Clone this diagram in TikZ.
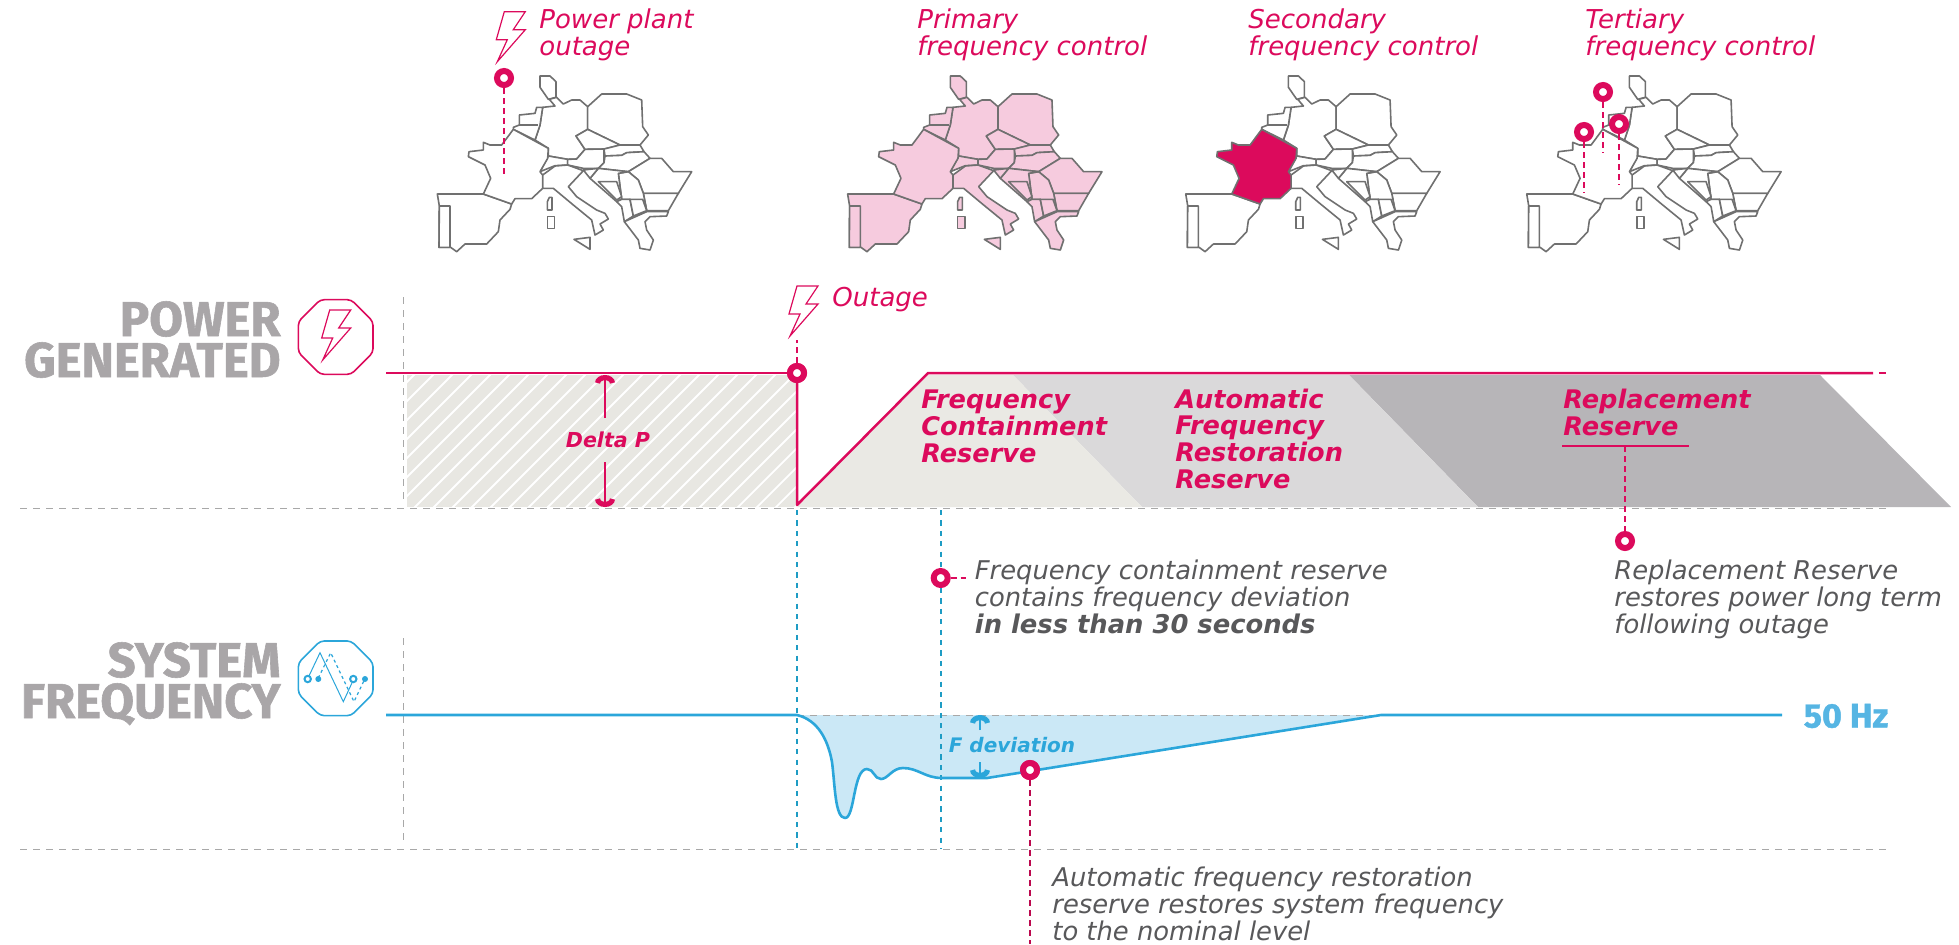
\documentclass[tikz,border=0pt]{standalone}
\usepackage{fontspec}
\setmainfont{DejaVu Sans}
\newfontfamily\headfont[BoldFeatures={FakeBold=1.2}]{Fira Sans}
\usetikzlibrary{arrows.meta,shapes.geometric}
\definecolor{crim}{HTML}{DC0A5C}
\definecolor{skyb}{HTML}{2BA6DA}
\definecolor{hzblue}{HTML}{56B5E3}
\definecolor{tealb}{HTML}{1E9CC4}
\definecolor{txtgrey}{HTML}{58585A}
\definecolor{headgrey}{HTML}{A9A6A8}
\definecolor{dashgrey}{HTML}{A8A8A8}
\definecolor{mapline}{HTML}{707070}
\definecolor{pinkfill}{HTML}{F6CBDE}
\definecolor{resA}{HTML}{EAE9E4}
\definecolor{resB}{HTML}{DAD9DA}
\definecolor{resC}{HTML}{B7B5B8}
\definecolor{hatchbg}{HTML}{E8E7E2}
\definecolor{devfill}{HTML}{CBE8F6}
\tikzset{
  country/.style={draw=mapline,line width=0.8pt,line join=round,fill=white},
  ringmark/.style={circle,draw=crim,fill=white,line width=3pt,inner sep=0pt,minimum size=7pt},
  pinkdash/.style={draw=crim,line width=0.7pt,dash pattern=on 3pt off 2pt},
  bluedash/.style={draw=tealb,line width=1pt,dash pattern=on 2.6pt off 2.6pt},
  greydash/.style={draw=dashgrey,line width=0.5pt,dash pattern=on 3.5pt off 3pt},
  crimline/.style={draw=crim,line width=1.25pt,line join=round},
  bluecurve/.style={draw=skyb,line width=1.3pt,line join=round},
  lightning/.style={draw=crim,line width=0.6pt,line join=miter},
  caption/.style={anchor=base west,align=left,text=crim,font=\fontsize{13}{13.3}\selectfont\itshape,inner sep=0pt},
  note/.style={anchor=base west,align=left,text=txtgrey,font=\fontsize{12.9}{13.3}\selectfont\itshape,inner sep=0pt},
  reservelabel/.style={anchor=base west,align=left,text=crim,font=\fontsize{12.8}{13.3}\selectfont\bfseries\itshape,inner sep=0pt},
  headtext/.style={anchor=base east,align=right,text=headgrey,font=\fontsize{24.5}{20.5}\selectfont\headfont\bfseries,inner sep=0pt},
  octa/.style={regular polygon,regular polygon sides=8,minimum size=40.4pt,inner sep=0pt,line width=0.8pt,rounded corners=2pt},
  updownhead/.style={-{Arc Barb[length=4pt,width=10pt,line width=2.6pt]}},
}
% one European map; #1 fill for most countries, #2 fill for France
\newcommand{\euromap}[4]{%
\begin{scope}[shift={(#3,#4)},x=0.16667pt,y=-0.16667pt,country/.append style={fill=#1}]
\draw[country] (360,228)--(390,228)--(408,245)--(408,292)--(385,298)--(360,262)--cycle;
\draw[country] (503,320)--(480,300)--(455,300)--(430,312)--(410,292)--(388,298)--(405,318)--(368,322)--(360,375)--(345,420)--(385,445)--(385,468)--(443,478)--(470,477)--(495,448)--(468,408)--(503,388)--cycle;
\draw[country] (503,320)--(545,282)--(620,282)--(665,300)--(668,380)--(685,405)--(660,435)--(600,435)--(503,388)--cycle;
\draw[country] (503,388)--(600,435)--(552,447)--(495,448)--(468,408)--cycle;
\draw[country] (280,388)--(280,382)--(298,375)--(298,345)--(345,340)--(350,322)--(368,322)--(360,375)--(345,420)--cycle;
\draw[country] (298,375)--(355,375);
\draw[country] (385,468)--(360,515)--(405,497)--(443,495)--(443,478)--cycle;
\draw[country] (443,478)--(470,477)--(495,448)--(552,447)--(552,488)--(535,505)--(490,505)--(443,495)--cycle;
\draw[country] (552,447)--(600,435)--(660,435)--(672,455)--(620,458)--(605,466)--(555,468)--cycle;
\draw[country] (555,468)--(605,466)--(620,458)--(672,455)--(690,475)--(625,515)--(535,505)--(552,488)--cycle;
\draw[country] (690,475)--(725,475)--(760,515)--(815,515)--(775,580)--(670,580)--(655,540)--(625,515)--cycle;
\draw[country] (670,580)--(775,580)--(745,632)--(680,632)--cycle;
\draw[country] (625,515)--(655,540)--(670,580)--(680,632)--(640,648)--(630,598)--(605,598)--(595,520)--cycle;
\draw[country] (535,505)--(625,515)--(595,520)--(605,598)--(590,605)--(510,535)--cycle;
\draw[country] (535,545)--(590,545)--(605,590)--(590,600)--cycle;
\draw[country] (490,510)--(535,505)--(510,535)--cycle;
\draw[country] (590,605)--(605,598)--(630,598)--(640,648)--(613,665)--(605,620)--cycle;
\draw[country] (630,598)--(668,598)--(680,632)--(640,648)--cycle;
\draw[country] (368,525)--(405,498)--(443,495)--(490,512)--(445,560)--(470,590)--(530,630)--(555,640)--(565,657)--(540,672)--(550,690)--(525,705)--(515,660)--(460,615)--(400,565)--(368,565)--cycle;
\draw[country] (613,665)--(680,635)--(745,635)--(740,648)--(690,650)--(675,665)--(680,690)--(700,720)--(690,750)--(660,745)--(655,720)--cycle;
\draw[country] (52,582)--(190,582)--(275,612)--(270,628)--(240,660)--(235,695)--(200,732)--(135,732)--(110,755)--(92,742)--(57,742)--(58,618)--cycle;
\draw[country] (58,618)--(90,618)--(90,742)--(57,742)--cycle;
\draw[country] (388,592)--(396,592)--(396,630)--(382,630)--(382,605)--cycle;
\draw[country] (382,650)--(404,650)--(404,685)--(382,685)--cycle;
\draw[country] (462,718)--(510,712)--(510,748)--cycle;
\draw[country,fill=#2] (280,388)--(385,445)--(383,475)--(360,515)--(368,525)--(368,565)--(335,596)--(285,596)--(275,612)--(190,582)--(212,535)--(195,495)--(145,470)--(147,455)--(190,450)--(190,427)--(210,435)--(245,435)--cycle;
\end{scope}}
\newcommand{\boltat}[2]{\draw[lightning] (#1+7,#2-50)--(#1+28,#2-50)--(#1+16,#2-32)--(#1+28,#2-32)--(#1,#2)--(#1+10,#2-22)--(#1-1,#2-22)--cycle;}
\begin{document}
\begin{tikzpicture}[x=0.5pt,y=-0.5pt]
\useasboundingbox (0,0) rectangle (1959,944);
% maps
\euromap{white}{white}{420}{0}
\euromap{pinkfill}{pinkfill}{830.3}{0}
\euromap{white}{crim}{1168.4}{0}
\euromap{white}{white}{1509.4}{0}
% top captions
\node[caption] (capA) at (539,55) {Power plant\\outage};
\node[caption] (capB) at (917,55) {Primary\\frequency control};
\node[caption] (capC) at (1248,55) {Secondary\\frequency control};
\node[caption] (capD) at (1585,55) {Tertiary\\frequency control};
\boltat{497.3}{61.7}
\node[ringmark] (mapring) at (504,78) {};
\coordinate (mapfoot) at (504,175);
\draw[pinkdash] (mapring) -- (mapfoot);
\coordinate (tertAf) at (1603,153);
\coordinate (tertBf) at (1619,185);
\coordinate (tertCf) at (1584,193);
\node[ringmark] (tertA) at (1603,92) {};
\node[ringmark] (tertB) at (1619,124) {};
\node[ringmark] (tertC) at (1584,132) {};
\draw[pinkdash] (tertA) -- (tertAf);
\draw[pinkdash] (tertB) -- (tertBf);
\draw[pinkdash,line width=1pt] (tertC) -- (tertCf);
% headings
\node[headtext] (headP) at (281,377) {POWER\\GENERATED};
\node[headtext] (headF) at (281,718) {SYSTEM\\FREQUENCY};
\node[octa,draw=crim] (octP) at (335.7,337) {};
\boltat{322.7}{360}
\node[octa,draw=skyb] (octF) at (335.7,678.3) {};
\draw[skyb,line width=0.5pt] (308,678)--(320,652.7)--(343.3,701.7)--(353.3,680);
\draw[skyb,line width=0.6pt,dash pattern=on 1.5pt off 1.5pt] (318.3,678)--(330.7,652.7)--(354,701.7)--(364.3,680);
\node[circle,draw=skyb,fill=white,line width=1pt,inner sep=0pt,minimum size=3.2pt] (icA) at (307.7,679) {};
\node[circle,fill=skyb,inner sep=0pt,minimum size=3pt] (icB) at (318.3,679) {};
\node[circle,draw=skyb,fill=white,line width=1pt,inner sep=0pt,minimum size=3.2pt] (icC) at (353.3,679) {};
\node[circle,fill=skyb,inner sep=0pt,minimum size=3pt] (icD) at (365,679) {};
% reserve bands
\fill[resC] (1349,375)--(1820,375)--(1951,507)--(1478,507)--cycle;
\fill[resB] (1013,375)--(1349,375)--(1478,507)--(1142,507)--cycle;
\fill[resA] (797,507)--(928,375)--(1013,375)--(1142,507)--cycle;
% hatched delta P block
\begin{scope}
\clip (407,375) rectangle (797,507);
\fill[hatchbg] (407,375) rectangle (797,507);
\foreach \k in {-9,...,22}{\draw[white,line width=0.9pt] (407+19*\k,515)--(407+19*\k+150,365);}
\end{scope}
% grey dashes
\coordinate (gA) at (403,297); \coordinate (gB) at (403,505);
\coordinate (gC) at (403,638); \coordinate (gD) at (403,843);
\coordinate (gE) at (20,508); \coordinate (gF) at (1886,508);
\coordinate (gG) at (20,849); \coordinate (gH) at (1889,849);
\coordinate (gI) at (797,715); \coordinate (gJ) at (1381,715);
\draw[greydash] (gA)--(gB);
\draw[greydash] (gC)--(gD);
\draw[greydash] (gE)--(gF);
\draw[greydash] (gG)--(gH);
% deviation fill
\fill[devfill] (797,715) .. controls (818,720) and (828,740) .. (832,762) .. controls (835,785) and (835,818) .. (845,818) .. controls (855,818) and (853,769) .. (867,769) .. controls (874,769) and (874,779) .. (881,779) .. controls (888,779) and (892,768) .. (903,768) .. controls (918,768) and (925,778) .. (942,778) -- (987,778) -- (1381,715) -- cycle;
\draw[greydash] (gI)--(gJ);
% vertical blue dashes
\node[ringmark] (fcrring) at (940.7,578) {};
\node[ringmark] (afrrring) at (1030,770) {};
\coordinate (drop) at (797,505);
\coordinate (bA) at (797,510); \coordinate (bB) at (797,849);
\coordinate (bC) at (940.7,510); \coordinate (bD) at (940.7,849);
\draw[bluedash] (bA)--(bB);
\draw[bluedash] (bC)--(fcrring);
\draw[bluedash] (fcrring)--(bD);
% power line
\node[ringmark] (outring) at (797,373) {};
\coordinate (pStart) at (386,373);
\coordinate (pPeak) at (928,373);
\coordinate (pEnd) at (1873,373);
\coordinate (pGap) at (1879,373);
\coordinate (pDash) at (1886,373);
\draw[crimline] (pStart)--(outring);
\draw[crimline] (outring)--(drop)--(pPeak)--(pEnd);
\draw[crimline] (pGap)--(pDash);
\node[ringmark,fill=white] at (outring) {};
\coordinate (outTop) at (797,340);
\draw[pinkdash,line width=1pt] (outring)--(outTop);
\boltat{790}{336}
\node[caption] (outlab) at (832,306) {Outage};
% delta P
\node[anchor=center,text=crim,font=\fontsize{10.3}{11}\selectfont\bfseries\itshape,inner sep=0pt] (dp) at (608,440) {Delta P};
\coordinate (dpTop) at (605,375); \coordinate (dpBot) at (605,507);
\coordinate (dpA) at (605,418); \coordinate (dpB) at (605,462);
\draw[crim,line width=0.6pt,updownhead] (dpA)--(dpTop);
\draw[crim,line width=0.6pt,updownhead] (dpB)--(dpBot);
% reserve labels
\node[reservelabel] (fcr) at (921,462) {Frequency\\Containment\\Reserve};
\node[reservelabel] (afrr) at (1175,488) {Automatic\\Frequency\\Restoration\\Reserve};
\node[reservelabel] (rr) at (1563,435) {Replacement\\Reserve};
\coordinate (ulA) at (1562,446); \coordinate (ulB) at (1689,446); \coordinate (ulM) at (1625,446);
\draw[crim,line width=0.55pt] (ulA)--(ulB);
\node[ringmark] (rrring) at (1625,541) {};
\draw[pinkdash,line width=0.55pt] (ulM)--(rrring);
% frequency line
\coordinate (fStart) at (386,715);
\coordinate (fBase) at (797,715);
\coordinate (fRec) at (1381,715);
\coordinate (fEnd) at (1782,715);
\draw[bluecurve] (fStart)--(fBase) .. controls (818,720) and (828,740) .. (832,762) .. controls (835,785) and (835,818) .. (845,818) .. controls (855,818) and (853,769) .. (867,769) .. controls (874,769) and (874,779) .. (881,779) .. controls (888,779) and (892,768) .. (903,768) .. controls (918,768) and (925,778) .. (942,778) -- (987,778) -- (fRec) -- (fEnd);
\node[anchor=center,text=hzblue,font=\fontsize{17}{17}\selectfont\headfont\bfseries,inner sep=0pt] (hz) at (1846,716) {50 Hz};
\node[anchor=center,text=skyb,font=\fontsize{10}{11}\selectfont\bfseries\itshape,inner sep=0pt] (fdev) at (1012,745) {F deviation};
\coordinate (fdA) at (980,730); \coordinate (fdB) at (980,762);
\coordinate (fdT) at (980,715); \coordinate (fdD) at (980,778);
\draw[skyb,line width=0.6pt,updownhead] (fdA)--(fdT);
\draw[skyb,line width=0.6pt,updownhead] (fdB)--(fdD);
% rings on curves and their callouts
\node[ringmark] at (afrrring) {};
\coordinate (afrrFoot) at (1030,944);
\draw[pinkdash,line width=1pt,draw=crim!85!black] (afrrring)--(afrrFoot);
\coordinate (fcrDash) at (966,578);
\draw[pinkdash] (fcrring)--(fcrDash);
% notes
\node[note] (nFcr) at (974.5,633) {Frequency containment reserve\\contains frequency deviation\\\textbf{in less than 30 seconds}};
\node[note] (nRr) at (1614,633) {Replacement Reserve\\restores power long term\\following outage};
\node[note] (nAfrr) at (1052,940) {Automatic frequency restoration\\reserve restores system frequency\\to the nominal level};
\end{tikzpicture}
\end{document}
